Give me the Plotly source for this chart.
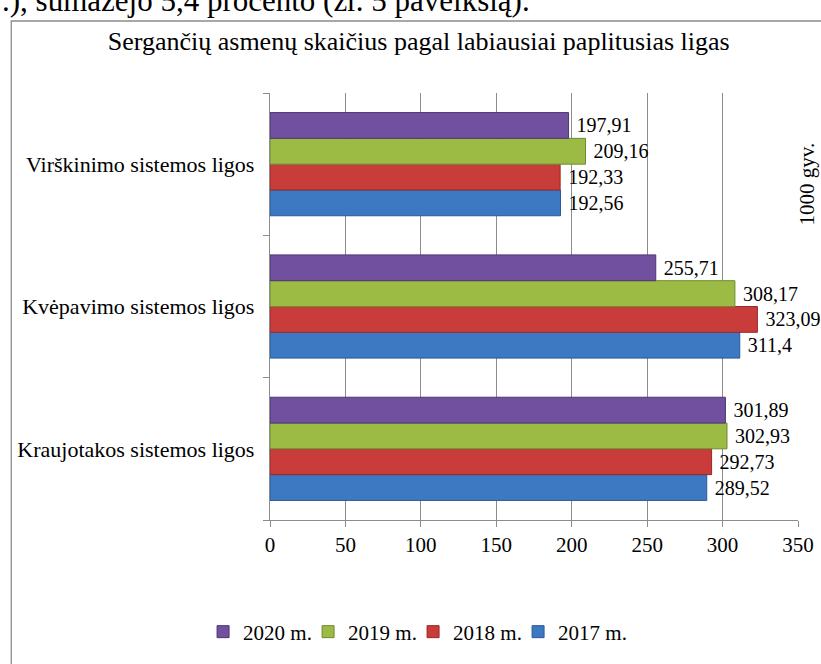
import plotly.graph_objects as go

# ---- data ----
categories = ["Kraujotakos sistemos ligos", "Kvėpavimo sistemos ligos", "Virškinimo sistemos ligos"]
series_names = ["2017 m.", "2018 m.", "2019 m.", "2020 m."]
values_2017 = [289.52, 311.4, 192.56]
values_2018 = [292.73, 323.09, 192.33]
values_2019 = [302.93, 308.17, 209.16]
values_2020 = [301.89, 255.71, 197.91]
x_tick_values = [0, 50, 100, 150, 200, 250, 300, 350]
chart_title = "Sergančių asmenų skaičius pagal labiausiai paplitusias ligas"
unit_label = "1000 gyv."
page_text = ".), sumažėjo 5,4 procento (žr. 5 paveikslą)."

series_values = [values_2017, values_2018, values_2019, values_2020]
fill_colors = ["#3D78C2", "#C83C3A", "#9BBB45", "#7150A0"]
line_colors = ["#2A5A96", "#952A28", "#718A30", "#4E3672"]

FONT = "Liberation Serif, Times New Roman, serif"


def fmt(v):
    s = f"{v:.2f}".rstrip("0").rstrip(".")
    return "\u00a0" + s.replace(".", ",")


fig = go.Figure()
for i, (name, vals, fc, lc) in enumerate(zip(series_names, series_values, fill_colors, line_colors)):
    fig.add_trace(go.Bar(
        y=categories, x=vals, name=name, orientation="h",
        marker=dict(color=fc, line=dict(color=lc, width=1)),
        text=[fmt(v) for v in vals], textposition="outside",
        textfont=dict(family=FONT, size=20, color="black"),
        cliponaxis=False, constraintext="none",
        legendwidth=80 if i == 0 else None,
    ))

W, H = 821, 664
L, R, T, B = 270, 22.5, 93, 144
pw = W - L - R
ph = H - T - B


def px2paper_x(px):
    return (px - L) / pw


def px2paper_y(py):
    return (H - B - py) / ph


fig.update_layout(
    width=W, height=H,
    margin=dict(l=L, r=R, t=T, b=B, pad=0, autoexpand=False),
    paper_bgcolor="white", plot_bgcolor="white",
    font=dict(family=FONT, size=21, color="black"),
    barmode="group", bargap=0.275, bargroupgap=0,
    showlegend=True,
    title=dict(text=chart_title, x=0.51, xref="container", xanchor="center",
               y=1 - 41 / H, yref="container", yanchor="middle",
               font=dict(family=FONT, size=26, color="black")),
    legend=dict(orientation="h", traceorder="reversed",
                x=px2paper_x(203), xanchor="left",
                y=px2paper_y(632), yanchor="middle",
                entrywidth=60, entrywidthmode="pixels",
                font=dict(family=FONT, size=21, color="black"),
                bgcolor="rgba(0,0,0,0)"),
    xaxis=dict(range=[0, 350], tickvals=x_tick_values, automargin=False,
               showgrid=True, gridcolor="#8C8C8C", gridwidth=1.3,
               showline=True, linecolor="#8C8C8C", linewidth=1.3,
               ticks="outside", ticklen=6, tickcolor="#8C8C8C", tickwidth=1.3,
               tickfont=dict(family=FONT, size=21, color="black"),
               zeroline=False, fixedrange=True),
    yaxis=dict(type="category", categoryorder="array", categoryarray=categories,
               automargin=False,
               showgrid=False, showline=True, linecolor="#8C8C8C", linewidth=1.3,
               ticks="outside", ticklen=6, tickcolor="#8C8C8C", tickwidth=1.3,
               tickson="boundaries", ticklabelstandoff=10,
               tickfont=dict(family=FONT, size=22, color="black"),
               fixedrange=True),
)

# chart frame
fig.add_shape(type="rect", xref="paper", yref="paper",
              x0=px2paper_x(11), x1=px2paper_x(830),
              y0=px2paper_y(670), y1=px2paper_y(21),
              line=dict(color="#8C8C8C", width=1.3), fillcolor="rgba(0,0,0,0)",
              layer="below")

# unit label on the right
fig.add_annotation(text=unit_label, xref="paper", yref="paper",
                   x=px2paper_x(808), y=px2paper_y(184), textangle=-90,
                   showarrow=False, xanchor="center", yanchor="middle",
                   font=dict(family=FONT, size=21, color="black"))

# cut-off document text above the chart
fig.add_annotation(text=page_text, xref="paper", yref="paper",
                   x=px2paper_x(0), y=px2paper_y(20), xanchor="left", yanchor="bottom",
                   showarrow=False,
                   font=dict(family=FONT, size=31, color="black"))

fig.write_html("out.html",
               config={"displayModeBar": False},
               post_script="document.body.style.margin='0';document.body.style.padding='0';")
